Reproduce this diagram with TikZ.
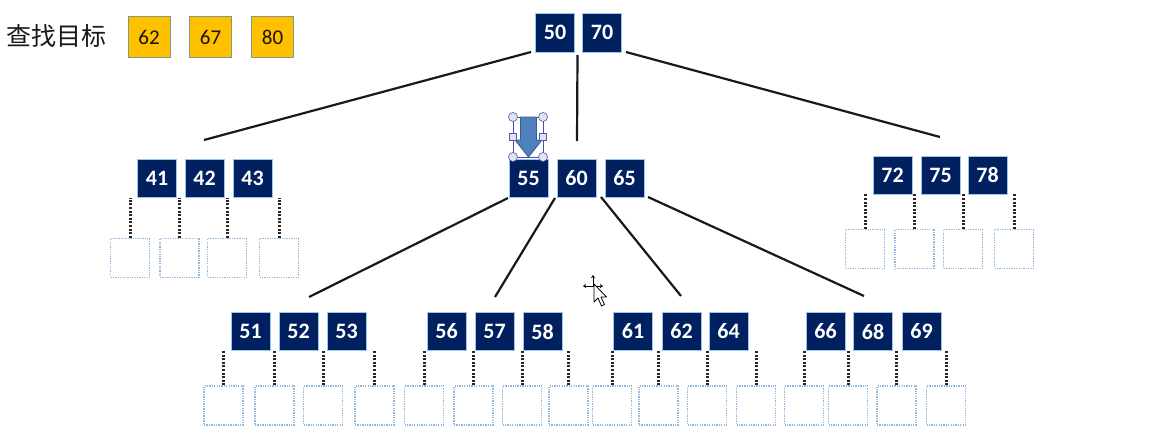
\documentclass[tikz,border=0pt]{standalone}
\usepackage{fontspec}
\newfontfamily\numfont{Carlito}
\newfontfamily\cjkfont{Noto Sans CJK SC}
\usetikzlibrary{calc,arrows.meta}
\definecolor{navy}{HTML}{002060}
\definecolor{keyedge}{HTML}{9DC3E6}
\definecolor{emptyedge}{HTML}{8DB8E2}
\definecolor{gold}{HTML}{FFC000}
\definecolor{goldedge}{HTML}{7F9A8A}
\definecolor{arrowblue}{HTML}{4F81BD}
\definecolor{arrowedge}{HTML}{385D8A}
\definecolor{handle}{HTML}{DCE6F2}
\tikzset{
  keybox/.style={rectangle, fill=navy, draw=keyedge, line width=0.8pt, text=white,
    font=\numfont\bfseries\fontsize{22}{22}\selectfont, minimum width=39pt, minimum height=38pt, inner sep=0pt},
  emptybox/.style={rectangle, draw=emptyedge, line width=1.3pt, dash pattern=on 1.3pt off 1.1pt,
    minimum width=39pt, minimum height=39pt, inner sep=0pt},
  targetbox/.style={rectangle, fill=gold, draw=goldedge, line width=1pt, text={black!85!brown},
    font=\numfont\fontsize{21}{21}\selectfont, minimum width=42pt, minimum height=41pt, inner sep=0pt},
  treeline/.style={line width=2.2pt, black!90},
  dotline/.style={line width=3pt, black!85, dash pattern=on 2pt off 1.6pt},
  handlec/.style={circle, fill=handle, draw=gray!70!blue, line width=0.6pt, minimum size=9pt, inner sep=0pt},
  handles/.style={rectangle, fill=handle, draw=gray!70!blue, line width=0.6pt, minimum size=7pt, inner sep=0pt},
  cursorarrow/.style={line width=1pt, -{Stealth[length=3pt,width=4pt]}},
}
\begin{document}
\begin{tikzpicture}[x=1pt,y=-1pt]
\useasboundingbox[fill=white] (0,0) rectangle (1152,436);

% title and targets
\node[anchor=west, inner sep=0pt, font=\cjkfont\fontsize{25}{25}\selectfont, text=black!90] (title) at (6,36) {查找目标};
\node[targetbox] (t62) at (149,37.5) {62};
\node[targetbox] (t67) at (210.5,37.5) {67};
\node[targetbox] (t80) at (272.5,37.5) {80};

% root
\node[keybox, minimum height=39pt] (n50) at (555,32.5) {50};
\node[keybox, minimum height=39pt] (n70) at (602,32.5) {70};

% second level
\node[keybox] (n41) at (157,178.5) {41};
\node[keybox] (n42) at (204.5,178.5) {42};
\node[keybox] (n43) at (252.5,178.5) {43};

\node[keybox] (n55) at (528.5,178) {55};
\node[keybox] (n60) at (576.5,178) {60};
\node[keybox] (n65) at (624.5,178) {65};

\node[keybox] (n72) at (892.5,175) {72};
\node[keybox] (n75) at (940.5,175) {75};
\node[keybox] (n78) at (987.5,175) {78};

% third level
\foreach \k/\x in {51/250.5,52/298.5,53/346.5,56/446.5,57/494.5,58/542.5,61/633,62/681.5,64/728.5,66/825.5,68/873,69/921.5}{
  \node[keybox] (n\k) at (\x,331.5) {\k};
}

% empty child boxes
\foreach \i/\x in {1/130,2/179.5,3/227,4/279}{
  \node[emptybox] (el\i) at (\x,258) {};
}
\foreach \i/\x in {1/865,2/914.5,3/963,4/1014}{
  \node[emptybox] (er\i) at (\x,249) {};
}
\foreach \i/\x in {1/223.5,2/274.5,3/323,4/374.5,5/424,6/473.5,7/522,8/568.5,9/612,10/658.5,11/707,12/756,13/804,14/848,15/896.5,16/946}{
  \node[emptybox] (eb\i) at (\x,405.5) {};
}

% dotted links
\foreach \i in {1,...,4}{
  \draw[dotline] (el\i.north) -- (el\i.north |- n41.south);
  \draw[dotline] (er\i.north) -- (er\i.north |- n72.south);
}
\foreach \i in {1,...,16}{
  \draw[dotline] (eb\i.north) -- (eb\i.north |- n51.south);
}

% tree lines
\coordinate (r1) at (531,52);
\coordinate (r2) at (577.5,55);
\coordinate (r3) at (626,52);
\coordinate (c1) at (204,140);
\coordinate (c2) at (577,141);
\coordinate (c3) at (940,137);
\draw[treeline] (r1) -- (c1);
\draw[treeline] (r2) -- (c2);
\draw[treeline] (r3) -- (c3);

\coordinate (m1) at (508,198);
\coordinate (m2) at (555,198);
\coordinate (m3) at (601,197);
\coordinate (m4) at (648,197);
\coordinate (b1) at (309,297);
\coordinate (b2) at (495,297);
\coordinate (b3) at (681,296);
\coordinate (b4) at (864,296);
\draw[treeline] (m1) -- (b1);
\draw[treeline] (m2) -- (b2);
\draw[treeline] (m3) -- (b3);
\draw[treeline] (m4) -- (b4);

% selected down arrow shape
\draw[gray!60!blue, line width=0.6pt] (513,117) rectangle (543,157);
\draw[fill=arrowblue, draw=arrowedge, line width=0.8pt]
  (520.5,117) -- (536.5,117) -- (536.5,140) -- (542,140) -- (528.5,157) -- (515,140) -- (520.5,140) -- cycle;
\node[handlec] (h1) at (513,117) {};
\node[handlec] (h2) at (543,117) {};
\node[handlec] (h3) at (513,157) {};
\node[handlec] (h4) at (543,157) {};
\node[handles] (h5) at (513,137) {};
\node[handles] (h6) at (543,137) {};

% mouse cursor
\coordinate (mc) at (593,286);
\coordinate (mu) at (593,275);
\coordinate (ml) at (583,286);
\coordinate (mr) at (603,286);
\draw[cursorarrow] (mc) -- (mu);
\draw[cursorarrow] (mc) -- (ml);
\draw[cursorarrow] (mc) -- (mr);
\draw[fill=white, draw=black, line width=0.8pt, line join=round]
  (594,284) -- (594,302) -- (598,298) -- (601.5,306) -- (604.5,304.5) -- (601,297) -- (606.5,297) -- cycle;
\end{tikzpicture}
\end{document}
